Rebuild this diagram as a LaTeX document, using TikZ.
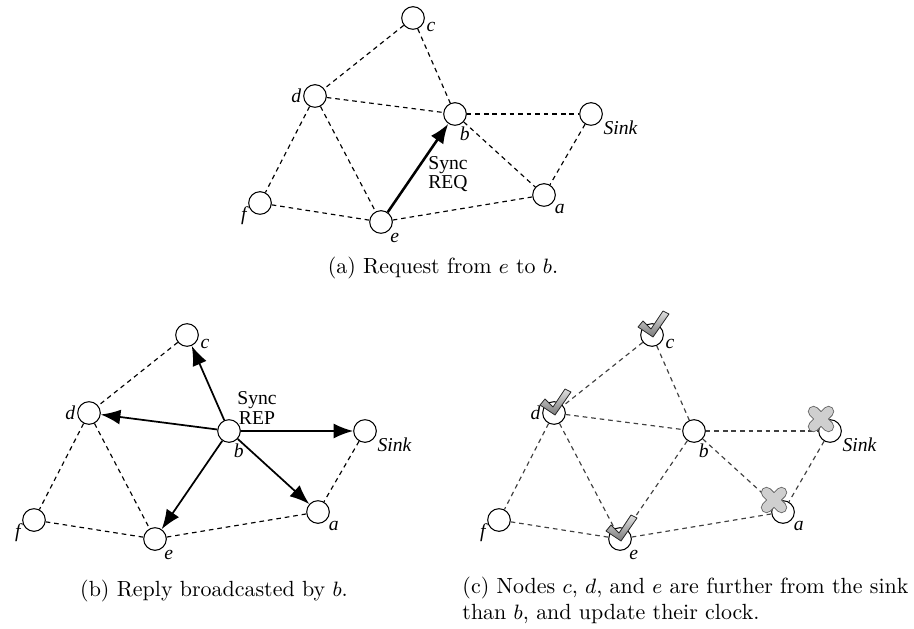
\documentclass[tikz,border=0pt]{standalone}
\usepackage{fontspec}
\newfontfamily\figfont{Liberation Serif}
\usetikzlibrary{arrows.meta}
\definecolor{markgray}{HTML}{7A7A7A}
\definecolor{crossgray}{HTML}{CFCFCF}
\tikzset{
    vertex/.style={
        circle, draw, fill=white, line width=0.45pt,
        minimum size=9.8pt, inner sep=0pt
    },
    lab/.style={
        font=\figfont\itshape\fontsize{8.5}{9}\selectfont, inner sep=0.6pt
    },
    sync/.style={
        font=\figfont\fontsize{8.5}{7}\selectfont, align=center, inner sep=0pt
    },
    capt/.style={
        font=\fontsize{9.5}{11.2}\selectfont, inner sep=0pt
    },
    lnk/.style={dash pattern=on 2pt off 1.7pt, line width=0.5pt},
    msg/.style={-{Latex[length=8.5pt,width=6.5pt]}, line width=0.9pt},
    checkmark/.pic={
        \draw[line width=0.35pt, draw=black!85, top color=gray!25, bottom color=markgray]
            (-14,-8) -- (-9,-14) -- (-1,-6) -- (11,-24) -- (17,-21) -- (1,2) -- cycle;
    },
    crossmark/.pic={
        \draw[line width=4.9pt, line cap=round, draw=black!60]
            (-7.5,-7.5) -- (7.5,7.5) (-7.5,7.5) -- (7.5,-7.5);
        \draw[line width=4.1pt, line cap=round, draw=crossgray]
            (-7.5,-7.5) -- (7.5,7.5) (-7.5,7.5) -- (7.5,-7.5);
    }
}

% one network, placed once per panel
\def\netnodes{
  \foreach \n/\x/\y/\ang/\txt in {
      c/413/18/-10/c, d/315/96/180/d, b/455/114/-75/b,
      Sink/591/114/-25/Sink, f/260/203/190/f, e/381/222/-50/e,
      a/544/195/-40/a} {
    \node[vertex, label={[lab]\ang:\txt}] (\n) at (\x,\y) {};
  }
}

\begin{document}
\begin{tikzpicture}[x=0.01521cm, y=-0.01521cm, line cap=butt, line join=round]

\useasboundingbox (0,0) rectangle (914,629);

% (a) request
\begin{scope}[name prefix=pa-]
  \netnodes
  \foreach \u/\v in {c/d, c/b, d/b, d/f, d/e, b/Sink, b/a, Sink/a, f/e, e/a}
    \draw[lnk] (pa-\u) -- (pa-\v);
  \draw[msg, line width=1.1pt] (pa-e) -- (pa-b);
  \node[sync] (pa-req) at (448,174) {Sync\\REQ};
\end{scope}
\node[capt] (capa) at (443,268) {(a) Request from $e$ to $b$.};

% (b) reply
\begin{scope}[shift={(-226,317)}, name prefix=pb-]
  \netnodes
  \foreach \u/\v in {c/d, d/f, d/e, f/e, e/a, Sink/a}
    \draw[lnk] (pb-\u) -- (pb-\v);
  \foreach \v in {c, d, Sink, a, e}
    \draw[msg, line width=0.75pt] (pb-b) -- (pb-\v);
  \node[sync] (pb-rep) at (483,91) {Sync\\REP};
\end{scope}
\node[capt] (capb) at (214,591) {(b) Reply broadcasted by $b$.};

% (c) update
\begin{scope}[shift={(239,317)}, name prefix=pc-]
  \netnodes
  \foreach \u/\v in {c/d, c/b, d/b, d/f, d/e, b/Sink, b/a, Sink/a, f/e, e/a, e/b}
    \draw[lnk, draw=black!75] (pc-\u) -- (pc-\v);
  \foreach \v in {c, d, e}
    \pic at (pc-\v) {checkmark};
  \foreach \v in {Sink, a}
    \pic at ([shift={(-9,-12)}]pc-\v.center) {crossmark};
\end{scope}
\node[capt, anchor=west, align=left] (capc) at (462,600)
  {(c) Nodes $c$, $d$, and $e$ are further from the sink\\than $b$, and update their clock.};

\end{tikzpicture}
\end{document}
